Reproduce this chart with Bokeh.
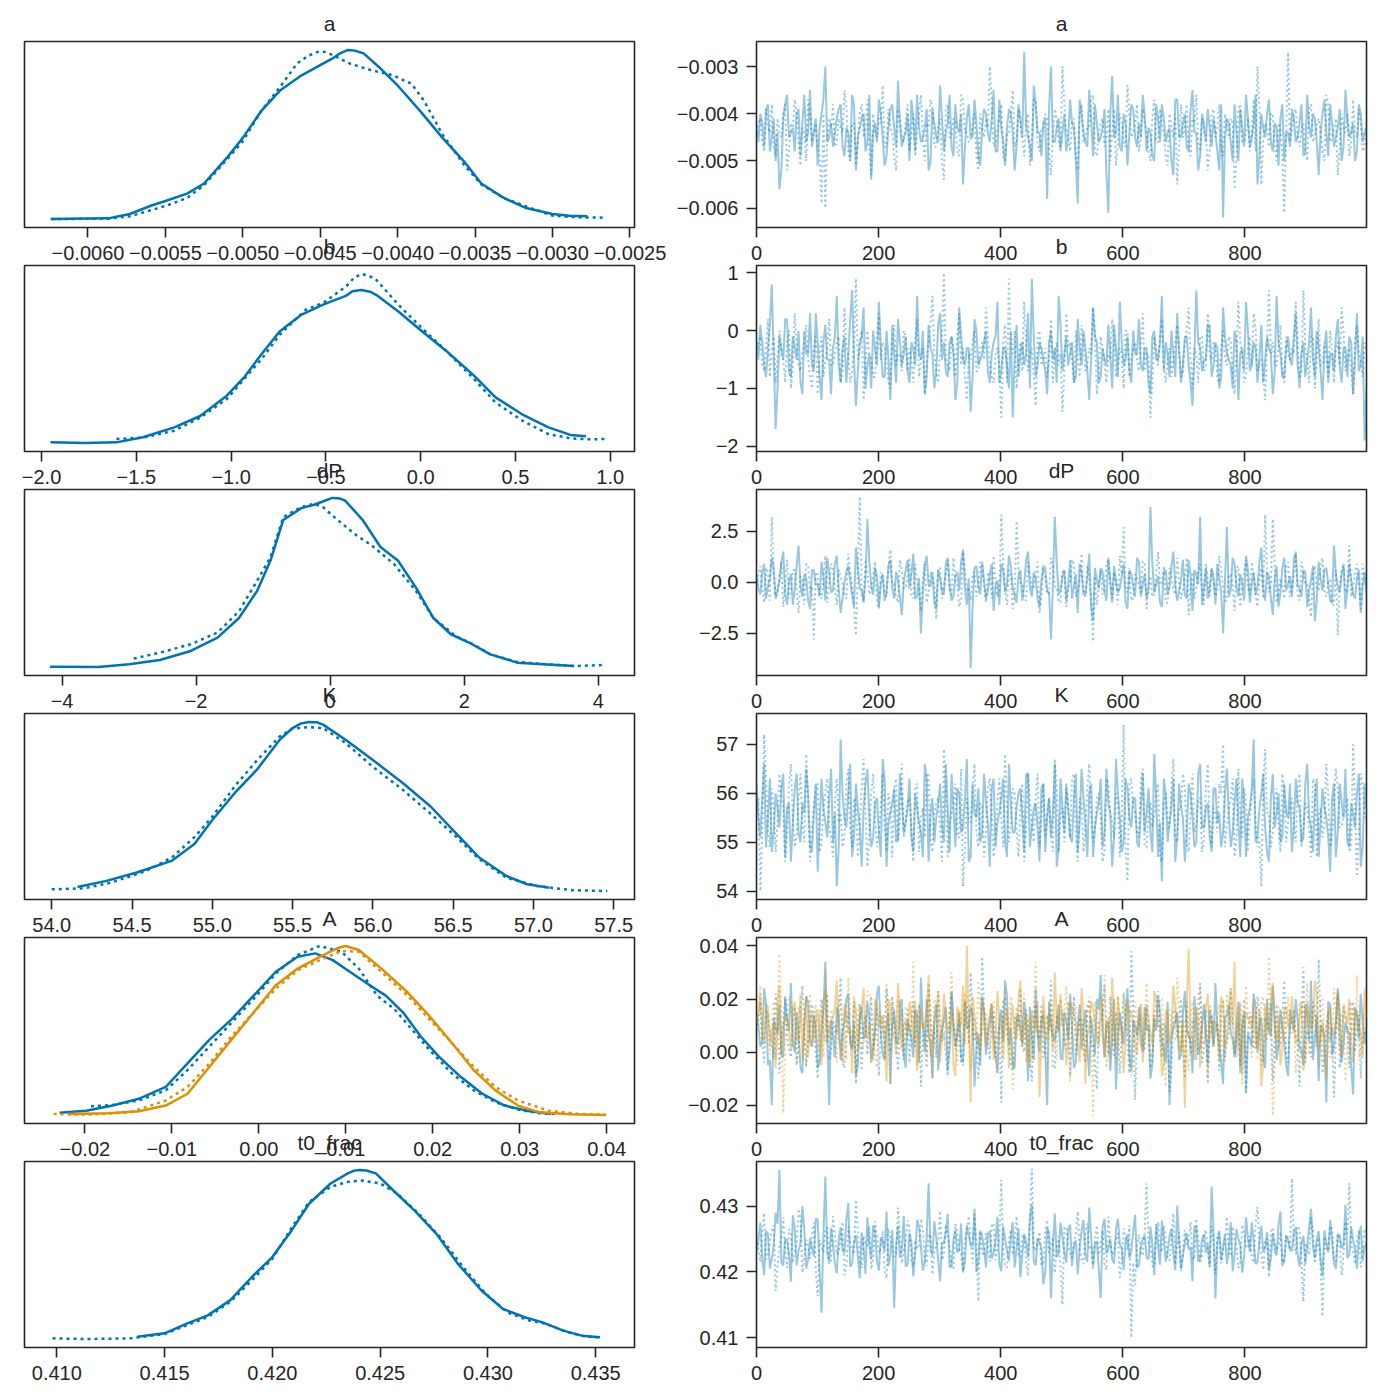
import numpy as np
from bokeh.plotting import figure
from bokeh.models import Range1d, FixedTicker, CustomJSTickFormatter
from bokeh.layouts import gridplot
from bokeh.embed import file_html
from bokeh.resources import INLINE

# ------------------------------------------------------------------ data
N_DRAWS = 1000
var_names = ["a", "b", "dP", "K", "A", "t0_frac"]

# KDE curves (x in the unit given, y = density in % of the panel maximum)
a_kde_unit = 1e-4
a_kde_c0_x = [-62.4, -58.7, -57.3, -55.9, -54.9, -53.6, -52.5, -51.05, -50.0, -48.8, -47.6, -46.2, -45.0, -44.2, -43.72, -43.2, -42.76, -42.2, -41.1, -40.0, -38.55, -37.1, -35.7, -34.6, -33.15, -31.7, -30.0, -28.9, -27.75]
a_kde_c0_y = [0, 0.4, 3, 8, 11, 15, 21, 36, 48, 64, 76, 85, 91, 95, 98, 100, 99.6, 98, 89, 79, 64, 48, 34, 21, 12.5, 6.5, 3, 2, 1.6]
a_kde_c1_x = [-62.4, -58.7, -57.3, -54.9, -53.6, -52.5, -51.05, -50.0, -48.8, -47.6, -46.5, -45.8, -45.1, -44.66, -44.2, -43.1, -41.7, -40.3, -39.1, -38.3, -37.1, -35.7, -34.6, -33.15, -31.7, -30.0, -28.3, -26.6]
a_kde_c1_y = [0, 0.2, 1.6, 8, 12.5, 20, 35, 46, 64, 78, 92, 96.5, 99, 98.8, 97, 92, 88, 85, 80, 70, 50, 32, 20.5, 12.5, 7.5, 2, 1, 0.8]

b_kde_unit = 1.0
b_kde_c0_x = [-1.953, -1.77, -1.605, -1.465, -1.30, -1.163, -1.023, -0.93, -0.837, -0.744, -0.628, -0.512, -0.395, -0.36, -0.314, -0.267, -0.233, -0.116, 0.0, 0.14, 0.28, 0.395, 0.535, 0.674, 0.79, 0.872]
b_kde_c0_y = [0.4, 0, 0.4, 3.4, 9.3, 16, 28, 39, 53, 66, 76, 82, 87, 89.8, 90.5, 89.5, 87.5, 77.6, 66.7, 54, 40, 27, 17, 9.3, 4.8, 4]
b_kde_c1_x = [-1.605, -1.465, -1.30, -1.163, -1.023, -0.93, -0.837, -0.744, -0.605, -0.512, -0.395, -0.353, -0.314, -0.274, -0.233, -0.116, 0.0, 0.14, 0.28, 0.395, 0.535, 0.674, 0.79, 0.884, 0.977]
b_kde_c1_y = [2.4, 3.2, 7.3, 15, 26, 38, 50, 64, 79, 83, 92.5, 97.5, 100, 99, 96.4, 81.6, 68.7, 54, 38, 24, 13.3, 5.3, 2.8, 2.2, 2.4]

dP_kde_unit = 1.0
dP_kde_c0_x = [-4.18, -3.46, -3.0, -2.54, -2.08, -1.68, -1.36, -1.09, -0.89, -0.70, -0.43, -0.24, -0.07, 0.03, 0.125, 0.22, 0.49, 0.75, 1.01, 1.28, 1.54, 1.80, 2.07, 2.39, 2.79, 3.18, 3.64]
dP_kde_c0_y = [0.2, 0, 1.6, 4.2, 9.5, 17.4, 29, 45, 63, 87, 94, 96, 98.5, 100, 99.8, 98.6, 86.7, 71, 63, 47, 29, 19.4, 14.5, 7.5, 2.6, 1.6, 0.6]
dP_kde_c1_x = [-2.93, -2.54, -2.08, -1.68, -1.36, -1.09, -0.89, -0.70, -0.43, -0.24, -0.11, 0.09, 0.36, 0.62, 0.95, 1.28, 1.54, 1.87, 2.13, 2.39, 2.79, 3.25, 3.64, 4.1]
dP_kde_c1_y = [5, 8.5, 13.5, 20.4, 33, 51, 65, 88.7, 94.7, 96.6, 94.7, 87.7, 78.8, 71.9, 61, 45, 29, 18.4, 13.5, 7.5, 3, 1.6, 0.6, 1.2]

K_kde_unit = 1.0
K_kde_c0_x = [54.16, 54.34, 54.53, 54.75, 54.89, 55.0, 55.14, 55.28, 55.42, 55.5, 55.55, 55.6, 55.65, 55.69, 55.83, 56.0, 56.19, 56.36, 56.52, 56.66, 56.83, 56.96, 57.1]
K_kde_c0_y = [2.4, 6, 11, 18, 28, 42, 58, 72, 89.5, 96.4, 99, 100, 99.8, 98.4, 89.5, 77.5, 63.6, 50, 34, 20, 9, 4, 2]
K_kde_c1_x = [54.0, 54.2, 54.37, 54.59, 54.75, 54.89, 55.0, 55.14, 55.28, 55.42, 55.5, 55.6, 55.69, 55.83, 56.0, 56.19, 56.36, 56.52, 56.66, 56.83, 57.02, 57.24, 57.46]
K_kde_c1_y = [1, 1.6, 5, 12, 20, 32, 44, 62, 77.5, 91.5, 96, 97, 96.4, 87.5, 73.5, 59.6, 45.7, 32, 19, 8, 3, 0.5, 0]

A_kde_unit = 1e-3
A0_kde_c0_x = [-22.9, -19.85, -16.8, -13.8, -10.7, -8.2, -5.67, -3.14, -0.6, 1.92, 4.46, 6.48, 8.5, 10.5, 13.1, 14.6, 16.6, 18.6, 20.7, 23.2, 25.7, 28.25, 30.8, 33.6]
A0_kde_c0_y = [1.4, 2.6, 5.6, 9.6, 16.6, 30.6, 44.6, 56.6, 70.6, 84.6, 93.6, 95.6, 91.6, 84.6, 75.6, 70.6, 60.6, 46.6, 34.6, 22.6, 12.6, 5.6, 2.6, 0.6]
A0_kde_c1_x = [-19.3, -16.8, -13.8, -10.7, -8.2, -5.67, -3.14, -0.6, 1.92, 4.46, 7.0, 9.5, 11.5, 13.6, 15.6, 17.6, 19.6, 22.2, 24.7, 27.2, 29.8, 32.3, 34.3]
A0_kde_c1_y = [5.2, 6, 8.6, 14.6, 26.6, 40.6, 54.6, 68.6, 83.6, 94.6, 100, 96.6, 86.6, 70.6, 62.6, 50.6, 38.6, 24.6, 14.6, 7.6, 3.2, 1, 0.6]
A1_kde_c0_x = [-21.9, -17.3, -13.8, -10.7, -8.2, -5.67, -3.14, -0.6, 1.92, 4.46, 7.0, 9.0, 10.0, 11.5, 14.1, 17.1, 19.6, 22.2, 24.7, 27.2, 29.8, 32.3, 35.8, 39.9]
A1_kde_c0_y = [0.6, 1, 2.2, 5.6, 12.6, 28.6, 44.6, 60.6, 76.6, 86.6, 93.6, 98.6, 100, 97.6, 86.6, 72.6, 58.6, 42.6, 26.6, 14.6, 5.6, 1.6, 0.4, 0]
A1_kde_c1_x = [-23.6, -19.85, -14.8, -10.7, -8.2, -5.67, -3.14, -0.6, 1.92, 4.46, 7.0, 9.5, 11.5, 14.1, 17.1, 19.6, 22.2, 24.7, 27.2, 29.8, 33.3, 36.9, 39.9]
A1_kde_c1_y = [0.6, 0.2, 1.6, 8.6, 16.6, 30.6, 46.6, 60.6, 74.6, 85.6, 91.6, 97, 96.6, 84.6, 70.6, 56.6, 42.6, 28.6, 16.6, 8.6, 2.6, 0.6, 0.2]

t0_kde_unit = 1e-3
t0_kde_c0_x = [413.73, 415.0, 416.0, 417.0, 418.05, 419.07, 420.0, 420.9, 421.7, 422.7, 423.5, 423.8, 424.06, 424.36, 424.8, 425.6, 426.6, 427.6, 428.6, 429.7, 430.7, 431.7, 432.5, 433.5, 434.35, 435.2]
t0_kde_c0_y = [1.4, 3.4, 9, 14, 23, 37, 48.5, 64.4, 80, 92, 98, 99.6, 100, 99.7, 98, 88, 76, 62.4, 44.6, 28.7, 17.8, 12.9, 10, 5, 2, 1]
t0_kde_c1_x = [409.8, 411.3, 413.4, 415.0, 416.0, 417.0, 418.05, 419.07, 420.0, 420.9, 421.7, 422.7, 423.5, 424.2, 425.0, 425.8, 426.8, 427.8, 428.85, 429.9, 430.9, 431.9, 432.7, 433.7, 434.55, 435.2]
t0_kde_c1_y = [0.4, 0, 0.4, 3, 8, 13, 22, 35, 47.5, 66, 81, 90, 93, 93.7, 92, 86, 74, 60, 42.6, 26.7, 15.8, 11, 9, 4, 1.4, 1]

# Trace samples, read from the 1000 draws: "_c0/_c1" at even sample slots,
# "_c0m/_c1m" at the slots in between (unit given per variable)
a_tr_unit = 1e-4
a_tr_c0 = [-43,-40,-47,-38,-45,-50,-56,-41,-36,-44,-48,-39,-42,-46,-35,-44,-51,-40,-30,-45,
           -47,-41,-38,-49,-44,-36,-52,-43,-40,-46,-54,-42,-37,-45,-49,-39,-43,-33,-47,-44,
           -50,-41,-36,-46,-43,-52,-39,-45,-34,-48,-42,-47,-38,-44,-55,-41,-45,-37,-49,-43,
           -40,-46,-35,-48,-43,-51,-39,-44,-47,-41,-27,-45,-50,-38,-44,-42,-58,-30,-46,-41,
           -44,-48,-37,-43,-59,-40,-46,-35,-49,-42,-45,-39,-61,-32,-44,-47,-40,-51,-38,-45,
           -42,-36,-48,-44,-50,-41,-38,-46,-43,-53,-37,-45,-40,-48,-35,-44,-49,-42,-39,-47,
           -44,-52,-62,-41,-46,-38,-50,-43,-36,-47,-42,-55,-40,-45,-37,-48,-43,-41,-50,-44,
           -39,-46,-42,-49,-36,-45,-41,-53,-40,-44,-38,-47,-43,-50,-35,-45,-42,-48,-40,-44]
a_tr_c0m = [-46,-42,-39,-48,-41,-44,-52,-38,-45,-43,-40,-49,-36,-44,-47,-41,-43,-37,-46,-42,
            -44,-39,-47,-43,-50,-38,-45,-41,-48,-36,-44,-46,-40,-51,-43,-38,-47,-42,-45,-40,
            -37,-48,-43,-45,-39,-50,-42,-46,-41,-44,-36,-49,-43,-40,-47,-38,-45,-42,-51,-39,
            -44,-41,-48,-37,-46,-43,-40,-52,-38,-45,-42,-47,-34,-44,-49,-41,-39,-46,-43,-48,
            -40,-45,-42,-50,-37,-44,-47,-41,-38,-46,-43,-53,-40,-45,-36,-48,-42,-44,-39,-47,
            -45,-40,-43,-49,-38,-46,-41,-44,-50,-37,-45,-42,-47,-39,-44,-52,-40,-46,-43,-41,
            -48,-38,-45,-42,-50,-44,-39,-47,-41,-45,-36,-49,-43,-40,-46,-42,-51,-38,-44,-47,
            -41,-45,-38,-48,-43,-40,-46,-44,-37,-49,-42,-45,-39,-47,-41,-44,-50,-38,-46,-43]
a_tr_c1 = [-45,-41,-48,-43,-38,-49,-44,-40,-52,-42,-37,-46,-43,-50,-39,-44,-47,-59,-60,-41,
           -38,-46,-43,-35,-48,-42,-51,-40,-45,-37,-53,-44,-41,-34,-47,-43,-49,-39,-45,-42,
           -48,-40,-44,-36,-50,-43,-39,-47,-41,-54,-38,-45,-42,-49,-37,-44,-46,-40,-52,-43,
           -41,-30,-47,-43,-38,-50,-44,-35,-46,-42,-49,-40,-45,-37,-48,-43,-41,-53,-39,-46,
           -30,-44,-48,-41,-52,-38,-45,-43,-36,-49,-42,-47,-39,-44,-51,-40,-46,-34,-45,-42,
           -48,-39,-44,-50,-37,-46,-42,-49,-40,-45,-55,-38,-43,-47,-41,-36,-48,-44,-52,-40,
           -45,-38,-49,-43,-41,-56,-39,-46,-44,-48,-37,-30,-55,-42,-47,-40,-50,-43,-61,-27,
           -44,-39,-47,-42,-50,-38,-45,-41,-48,-36,-46,-43,-53,-40,-44,-49,-37,-45,-42,-47]
a_tr_c1m = [-42,-46,-39,-44,-47,-41,-45,-38,-48,-43,-40,-51,-44,-37,-46,-42,-49,-40,-45,-43,
            -47,-41,-44,-39,-50,-42,-46,-38,-43,-48,-40,-45,-42,-47,-39,-44,-52,-41,-46,-38,
            -44,-49,-40,-45,-42,-37,-47,-43,-50,-39,-45,-41,-48,-36,-44,-46,-42,-49,-40,-45,
            -43,-38,-46,-41,-49,-44,-40,-47,-39,-45,-42,-51,-37,-46,-43,-40,-48,-44,-41,-47,
            -38,-45,-42,-49,-40,-46,-43,-37,-48,-44,-41,-45,-50,-39,-46,-42,-47,-40,-44,-38,
            -45,-42,-48,-41,-46,-39,-44,-51,-43,-40,-47,-45,-38,-49,-42,-46,-41,-44,-48,-39,
            -43,-47,-40,-45,-42,-50,-38,-46,-41,-44,-48,-39,-45,-43,-40,-47,-42,-49,-44,-46,
            -40,-45,-43,-48,-39,-46,-42,-44,-50,-38,-45,-41,-47,-43,-40,-46,-44,-39,-48,-42]

b_tr_unit = 0.1
b_tr_c0 = [-2,1,-6,-3,8,-17,-1,-5,2,-8,-3,0,-11,-4,3,-7,-2,-12,1,-5,
           -3,6,-9,-1,-4,7,-13,-2,4,-6,-10,-3,5,-8,0,-12,-4,2,-6,-1,
           -9,-3,6,-5,-11,1,-4,-7,3,-2,-8,-1,-12,4,-5,-3,-14,2,-6,-4,
           0,-9,-2,5,-7,-3,-10,-15,1,-4,-6,3,9,-8,-2,-5,-11,0,-3,6,
           -7,-1,-4,-9,2,-6,-3,-12,4,-2,-8,-5,1,-10,-3,5,-6,-1,-9,-4,
           2,-7,-3,-11,0,-5,6,-2,-8,-4,3,-9,-1,-6,-13,7,-3,-5,1,-8,
           -2,-10,4,-4,-6,0,-12,-3,5,-7,-2,-9,1,-5,-3,-11,6,-4,-8,-1,
           -6,3,-10,-2,-5,4,-8,-3,-12,0,-4,-7,2,-9,-3,-1,-11,3,-6,-19]
b_tr_c0m = [-5,-2,-8,1,-4,-10,-3,2,-7,-1,-5,-9,0,-4,-6,3,-8,-2,-5,-11,
            -1,-6,-3,-9,2,-5,-7,-1,-10,-4,0,-6,-3,-8,-5,1,-9,-2,-4,-7,
            -2,-6,-4,0,-8,-3,-10,1,-5,-7,-2,-4,-9,-1,-6,-3,-8,0,-5,-2,
            -7,-4,-1,-9,-3,-6,0,-5,-8,-2,-4,-10,-1,-6,-3,-7,-2,-5,-9,1,
            -4,-6,-2,-8,-3,0,-7,-5,-1,-9,-3,-6,-4,1,-8,-2,-5,-7,0,-4,
            -6,-3,-9,-1,-5,-2,-7,-4,0,-8,-3,-6,-1,-9,-4,-2,-7,-5,1,-6,
            -3,-8,-1,-5,-10,-2,-4,-7,0,-6,-3,-5,-9,-1,-4,-7,-2,-8,-3,-5,
            -1,-6,-4,-8,-2,-5,0,-7,-3,-9,-4,-1,-6,-3,-8,-2,-5,-7,-1,-10]
b_tr_c1 = [-4,-1,-7,2,-3,-9,0,-5,-2,-10,3,-6,-4,1,-8,-3,-11,-1,-5,2,
           -6,-2,-9,4,-4,-7,9,-3,-12,0,-5,-8,3,-2,-6,-10,1,-4,-7,-1,
           -3,-9,2,-5,-11,-2,6,-7,-4,10,-6,-1,-8,3,-3,-12,-5,0,-7,-2,
           4,-6,-9,-3,-15,1,9,-4,-10,-2,5,-7,-3,-13,0,-5,-8,2,-4,-6,
           -14,3,-2,-9,-5,1,-7,-3,4,-11,-1,-6,-4,2,-8,-3,-10,0,-5,-2,
           -7,3,-4,-15,-1,-6,2,-9,-3,-5,1,-8,-2,4,-10,-4,-1,-7,3,-5,
           -3,-9,0,-6,-2,-11,5,-4,-8,-1,3,-7,-5,-12,7,-2,-6,1,-9,-4,
           -3,5,-8,7,-5,-1,-10,2,-6,-4,0,-9,-2,4,-7,-3,-11,1,-5,-2]
b_tr_c1m = [-2,-6,-3,-8,-1,-5,-4,-9,0,-6,-3,-7,-2,-5,-10,-1,-4,-8,-3,-6,
            -4,-1,-7,-3,-9,-2,-5,0,-6,-4,-8,-1,-5,-3,-9,-2,-6,-4,0,-7,
            -5,-2,-8,-3,-6,1,-4,-9,-2,-5,-7,-3,-1,-6,-8,-4,-2,-7,-3,-5,
            -1,-8,-4,-6,-2,-9,-3,0,-5,-7,-2,-4,-8,-1,-6,-3,-5,-9,-2,-4,
            -7,-3,-5,0,-8,-2,-6,-4,-1,-7,-3,-9,-5,-2,-6,-4,0,-8,-3,-5,
            -2,-7,-4,-9,-3,-1,-6,-5,-8,-2,-4,-7,0,-5,-3,-9,-1,-6,-4,-2,
            -8,-3,-5,-1,-7,-4,-2,-9,-3,-6,0,-5,-8,-2,-4,-6,-3,-7,-1,-5,
            -4,-2,-7,-3,-9,-1,-5,-6,-2,-8,-4,-3,-6,0,-5,-7,-2,-4,-8,-3]

dP_tr_unit = 0.1
dP_tr_c0 = [3,-6,9,-2,12,-8,1,15,-11,4,-3,18,-7,2,-13,6,-1,10,-9,5,
            -4,13,-15,0,8,-6,17,-3,-10,31,-2,7,-12,4,-5,11,-8,1,-16,6,
            -3,14,-7,-25,9,-1,5,-13,2,-6,12,-9,3,-4,16,-11,-42,7,-2,10,
            -8,4,-14,1,9,-5,13,-3,-10,6,-1,15,-7,2,-12,8,-4,-28,32,-6,
            3,-9,11,-2,-15,5,-6,14,-19,1,7,-4,12,-10,0,-3,9,-13,4,-7,
            10,-1,-8,37,-5,3,-12,6,-2,15,-9,1,-6,11,-14,4,32,-3,-8,7,
            -11,2,-25,27,-4,9,-7,0,13,-10,5,-2,17,-9,3,-16,8,-5,12,-1,
            -7,15,-3,6,-12,1,-19,10,-4,7,-9,18,-2,4,-13,9,-6,2,-15,5]
dP_tr_c0m = [-3,5,-8,2,7,-4,10,-6,1,-11,8,-2,4,-9,6,-1,-7,3,12,-5,
             9,-3,-8,5,1,-12,7,-4,2,10,-6,3,-1,-9,8,-3,5,-7,0,11,
             4,-8,2,-5,13,-2,-10,6,-4,9,-1,-7,5,10,-3,2,-12,8,-6,1,
             -4,9,-2,-11,6,-1,8,-6,3,-9,11,-3,5,-8,1,7,-5,-2,10,-4,
             6,-1,-8,4,9,-6,2,-12,7,-3,5,-9,1,8,-5,3,-10,6,-2,12,
             -7,4,-3,9,-1,-10,5,-6,8,-2,-4,11,-8,3,6,-1,-11,7,-3,2,
             9,-5,1,-7,12,-2,4,-9,6,-1,-6,10,-3,5,-8,2,-12,7,-4,3,
             11,-2,-7,5,-4,8,-9,2,6,-1,-10,4,-5,9,-3,1,-8,6,-2,-6]
dP_tr_c1 = [-2,8,-10,5,32,-7,2,-12,11,-3,6,-15,1,9,-5,-28,4,-8,13,-1,
            7,-11,3,-6,14,-2,-26,42,-9,5,-4,10,-13,2,-7,16,-1,-10,6,-3,
            12,-8,0,-14,9,-5,3,-18,7,-2,11,-6,1,-12,15,-4,-9,5,-3,8,
            -10,2,13,-7,33,-4,6,-13,30,-1,-8,10,-3,4,-15,7,-6,12,-2,-9,
            5,-12,1,9,-4,14,-7,2,-29,-11,6,-3,11,-8,0,13,27,-5,-9,4,
            -2,10,-13,3,-6,15,-1,-10,7,-4,12,-8,2,-16,5,-3,9,-11,1,6,
            -7,13,-2,-9,4,-14,8,-1,11,-6,3,-12,7,33,-5,31,-10,2,-8,10,
            -3,14,-9,5,-1,-17,8,-4,12,-7,1,-11,-26,6,-5,18,-2,9,-13,3]
dP_tr_c1m = [4,-3,7,-9,2,-5,10,-1,-8,6,-4,3,-11,8,-2,5,-7,1,-10,9,
             -3,6,-1,-8,4,-12,7,-2,10,-6,3,-9,5,-4,8,-1,-7,11,-3,2,
             -6,9,-4,1,-10,5,-2,7,-8,3,-5,12,-1,-9,6,-3,4,-7,10,-2,
             5,-8,1,-4,9,-11,3,-6,7,-1,-9,4,-3,10,-7,2,-5,8,-2,-10,
             6,-3,11,-7,1,-4,8,-9,3,-2,-6,9,-1,5,-11,4,-3,7,-8,2,
             -5,10,-2,-7,4,-1,8,-10,3,-6,1,-4,12,-2,-8,5,-3,9,-7,1,
             -4,6,-9,3,-1,7,-12,5,-3,10,-6,2,-8,4,-1,9,-5,-2,8,-7,
             3,-6,10,-1,-9,4,-3,7,-5,1,-11,6,-2,8,-4,-7,5,-1,9,-3]

K_tr_unit = 0.1
K_tr_c0 = [562,551,566,555,548,560,553,564,557,546,561,552,558,565,549,556,544,563,554,559,
           550,541,571,555,560,547,562,553,557,565,549,558,552,567,545,556,561,551,559,554,
           563,548,557,552,566,546,559,555,562,550,557,564,549,560,553,567,547,556,561,552,
           558,545,563,554,559,550,566,552,557,561,548,564,553,558,546,562,555,551,566,549,
           557,562,551,559,548,565,554,560,547,556,563,552,558,545,567,555,550,561,553,559,
           549,564,556,552,568,547,542,560,554,563,551,557,546,562,555,550,566,553,558,548,
           561,556,552,565,549,558,554,563,547,557,571,551,560,553,546,564,556,550,562,555,
           548,563,557,551,566,553,559,547,561,555,544,562,552,558,565,549,556,560,545,562]
K_tr_c0m = [555,559,549,563,552,557,561,547,558,554,564,550,556,560,548,562,553,557,551,565,
            556,549,560,553,566,551,557,545,562,555,551,559,547,563,554,558,550,564,552,557,
            551,560,554,547,563,556,550,558,553,566,548,557,561,552,559,546,562,555,550,564,
            554,561,549,556,563,547,558,552,560,555,564,549,557,553,561,548,559,556,545,563,
            552,557,550,564,554,559,547,562,553,558,549,565,556,551,560,548,563,555,559,550,
            557,552,561,548,559,554,563,550,557,546,562,555,552,560,549,564,553,557,551,561,
            554,549,560,556,552,563,547,558,555,561,550,557,564,548,559,553,560,551,556,562,
            553,558,550,562,555,548,563,554,557,551,559,547,562,555,550,558,553,564,549,557]
K_tr_c1 = [556,540,572,553,561,548,564,557,551,566,549,559,554,568,546,557,562,550,560,553,
           547,563,556,551,565,549,558,553,567,545,560,555,552,564,548,557,561,550,566,554,
           559,546,562,555,551,564,548,558,553,569,547,556,562,551,541,559,554,566,549,557,
           552,563,547,558,555,568,550,561,553,557,546,564,554,559,549,562,556,552,567,548,
           557,561,551,564,546,558,553,566,550,559,555,548,562,554,560,547,574,542,563,556,
           551,565,549,558,555,562,546,560,553,567,550,557,561,548,564,554,559,551,566,549,
           556,562,570,553,559,547,565,551,558,555,563,549,541,569,556,552,561,548,560,554,
           559,550,564,553,557,547,562,555,551,566,549,558,561,553,556,548,570,543,564,555]
K_tr_c1m = [559,552,563,549,557,554,560,546,562,555,551,564,550,558,553,561,548,557,563,551,
            558,554,549,562,553,559,547,561,556,552,564,549,557,553,560,547,563,555,551,558,
            553,561,548,557,564,550,556,559,546,562,554,558,551,565,549,555,561,552,558,547,
            561,556,552,563,549,557,554,560,547,562,553,558,550,564,555,551,559,548,561,556,
            550,557,563,552,559,548,561,555,553,560,546,563,556,551,558,554,549,562,557,552,
            563,549,556,553,560,547,558,555,562,551,557,564,550,556,552,559,548,561,554,557,
            552,560,549,557,563,550,555,561,548,559,554,551,562,556,549,558,553,564,550,557,
            554,561,549,558,552,563,547,557,554,560,551,565,553,556,559,549,557,551,562,556]

A_tr_unit = 1e-3
A0_tr_c0 = [15,2,24,-5,-20,9,18,-2,12,26,0,7,-8,21,4,14,-6,10,34,-20,
            6,17,-3,11,22,1,-9,13,5,19,-4,8,25,-1,10,-12,16,3,20,-6,
            9,-2,14,28,0,6,-10,18,4,12,-7,23,2,15,-4,9,17,-13,7,21,
            -1,11,5,-8,16,27,3,-5,13,8,19,-11,6,24,0,14,-20,10,4,18,
            -3,12,22,-6,9,1,16,-9,7,20,29,-2,11,5,-14,15,3,24,-7,10,
            17,0,8,-10,13,21,4,-4,-20,9,15,-1,23,6,-8,12,2,18,-5,11,
            26,3,-12,14,7,-2,19,10,-15,5,22,0,13,-6,8,25,-3,16,4,-9,
            12,20,1,-5,15,27,6,-11,9,-19,18,2,24,-4,11,7,-16,14,22,3]
A0_tr_c0m = [10,4,18,-3,13,7,-1,21,8,3,15,-6,11,19,2,9,-4,16,5,12,
             -2,14,8,20,3,11,-5,17,6,13,1,22,7,-3,15,9,4,18,-1,12,
             5,16,-4,10,20,3,13,-7,8,17,1,11,6,-2,19,9,14,2,-5,15,
             7,18,-1,12,4,21,9,-6,14,3,10,17,-3,8,13,1,19,6,11,-2,
             15,5,9,-4,18,10,2,13,-1,16,7,11,-7,20,4,9,14,-2,12,6,
             3,17,10,-5,8,15,1,19,6,12,-3,14,9,4,21,-1,11,7,16,2,
             9,-4,13,18,5,10,-8,15,7,2,17,11,-2,20,6,13,3,9,-5,16,
             8,12,1,18,4,-3,14,10,6,19,-1,11,15,3,8,-6,17,5,12,9]
A0_tr_c1 = [8,19,-4,13,3,22,-8,11,6,-2,17,1,25,-5,9,14,-10,20,4,-3,
            12,7,28,-6,15,2,-12,18,9,-1,21,5,-9,13,24,0,10,-7,16,6,
            -4,19,11,-13,8,26,3,-2,14,7,-9,22,1,12,-5,17,30,4,-10,36,
            9,-3,15,6,-19,20,2,-7,13,24,0,10,-11,18,5,-2,14,27,-6,8,
            16,1,-9,21,7,12,-4,19,3,-14,11,25,-1,8,15,-8,22,4,38,-18,
            10,3,17,-6,13,23,-2,9,-15,16,5,20,-10,7,12,-3,26,1,-12,14,
            8,-7,19,4,24,-1,11,6,-16,15,2,21,-5,13,9,-11,18,3,27,-4,
            12,6,-13,32,8,-2,17,35,-8,10,4,-17,22,1,14,-6,19,9,-10,7]
A0_tr_c1m = [12,3,16,8,-2,14,6,20,1,10,-5,15,9,4,18,-1,13,7,22,2,
             9,15,-4,11,6,19,3,-7,14,10,1,17,8,-2,12,21,5,9,-3,16,
             11,2,18,7,-6,13,9,23,4,-1,15,10,6,-4,19,3,12,8,1,17,
             5,14,-2,10,20,7,-5,13,9,2,16,-3,11,6,18,1,8,-6,14,12,
             4,19,9,-1,13,6,17,2,-4,11,15,7,21,-2,10,5,13,-8,16,8,
             14,1,9,-3,18,6,11,2,-6,15,10,4,19,-1,12,7,-4,16,9,3,
             11,17,-2,8,13,5,-5,20,7,12,1,15,-3,10,18,6,2,13,-1,9,
             16,4,11,-4,7,19,2,13,-2,15,9,5,-6,17,8,12,0,14,6,10]
A1_tr_c0 = [12,22,3,17,8,-6,25,10,14,1,19,6,-3,21,11,4,16,-5,23,9,
            13,27,2,18,7,-8,15,11,24,5,-2,20,9,14,-11,17,6,26,1,12,
            19,4,-7,16,10,29,3,13,-4,22,8,17,-9,11,25,40,-19,14,6,20,
            2,15,-3,23,9,12,-6,18,5,27,11,-1,16,8,-17,21,4,13,30,7,
            10,-5,19,14,3,24,-12,9,17,6,21,-2,13,28,1,11,-8,20,15,4,
            12,-4,18,7,23,10,-9,16,3,25,13,0,-21,39,6,17,-6,14,22,8,
            11,-3,19,5,24,34,9,-8,15,12,20,2,-13,18,7,26,4,-5,16,10,
            21,3,14,-7,19,9,27,1,12,-10,17,6,23,-2,13,20,-4,15,8,24]
A1_tr_c0m = [14,7,18,2,11,20,-1,13,8,16,4,22,9,-2,15,10,6,19,3,12,
             17,5,-4,14,9,21,1,16,7,11,-3,18,12,4,20,8,-1,15,10,6,
             13,19,2,9,16,-2,11,23,5,14,8,-5,17,10,3,12,21,6,-1,15,
             9,18,4,13,-3,16,10,7,20,2,14,-6,11,19,5,9,15,1,12,22,
             8,3,17,11,-4,14,6,19,10,2,16,9,-2,13,21,7,4,15,11,-1,
             18,6,12,3,20,9,-5,14,8,16,1,11,19,5,-3,13,10,17,4,12,
             7,21,2,15,10,-2,18,6,13,9,3,16,-4,11,20,8,14,1,17,9,
             12,5,19,-1,14,10,22,6,-3,15,8,13,2,18,11,4,16,9,-2,13]
A1_tr_c1 = [9,25,4,15,11,-3,37,-23,13,20,2,17,8,-6,22,10,1,16,31,5,
            12,-4,19,7,28,14,-9,18,3,23,11,-1,15,6,26,-12,13,21,2,17,
            8,34,-5,14,10,24,-10,18,5,12,-2,30,9,16,3,21,-7,13,27,6,
            15,1,19,-8,11,24,7,-14,17,4,22,12,-3,34,9,16,-6,20,2,14,
            10,25,-11,18,6,13,-1,21,-24,15,8,29,3,17,-4,12,23,7,-9,19,
            11,4,26,-2,14,9,20,-13,16,6,28,1,12,-7,19,10,24,3,-10,15,
            8,18,-5,22,13,2,17,-12,25,9,14,-3,20,6,36,-24,11,16,4,21,
            7,-8,18,12,26,3,15,-6,20,10,-2,24,9,14,-11,17,5,29,1,13]
A1_tr_c1m = [16,6,12,-1,19,8,14,3,21,10,-4,15,7,11,2,18,13,-2,9,16,
             5,20,11,-3,14,8,17,1,12,22,6,-6,15,10,3,19,8,13,-1,16,
             11,4,18,9,-2,14,20,6,11,1,17,9,-5,13,22,7,10,3,16,12,
             8,19,-2,14,5,11,21,2,9,15,-4,13,18,6,10,1,16,12,-3,20,
             13,7,2,17,10,-1,15,8,19,4,12,-6,14,9,21,3,11,16,-2,8,
             18,6,13,1,10,20,-3,15,9,4,17,12,-1,14,7,22,5,11,18,2,
             13,9,-4,16,10,3,19,7,12,-2,15,8,21,4,11,-5,17,9,13,6,
             14,2,18,10,-1,15,7,20,5,12,-3,16,9,13,1,19,8,-2,14,11]

t0_tr_unit = 1e-4
t0_tr_c0 = [4230,4275,4195,4258,4220,4290,4355,4210,4248,4185,4266,4232,4300,4205,4251,4224,4280,4138,4345,4215,
            4242,4198,4268,4229,4305,4212,4256,4190,4237,4283,4219,4261,4202,4247,4292,4226,4145,4270,4234,4208,
            4259,4193,4279,4238,4216,4335,4225,4252,4186,4244,4288,4211,4264,4233,4199,4271,4240,4296,4218,4255,
            4207,4262,4230,4284,4201,4249,4217,4276,4236,4192,4258,4222,4303,4210,4245,4181,4267,4160,4289,4228,
            4253,4214,4272,4239,4196,4263,4226,4298,4209,4247,4160,4281,4235,4219,4265,4243,4203,4257,4231,4287,
            4211,4250,4222,4269,4195,4240,4278,4216,4254,4228,4301,4205,4245,4234,4186,4267,4221,4258,4243,4330,
            4160,4263,4238,4212,4276,4226,4251,4199,4283,4230,4247,4215,4270,4236,4204,4259,4225,4292,4217,4249,
            4232,4268,4208,4255,4240,4296,4221,4262,4193,4244,4279,4213,4257,4236,4302,4226,4249,4205,4270,4238]
t0_tr_c0m = [4248,4221,4262,4205,4239,4273,4214,4251,4228,4286,4210,4244,4265,4219,4236,4281,4203,4255,4229,4267,
             4213,4250,4233,4279,4208,4246,4224,4260,4197,4241,4271,4216,4253,4231,4209,4264,4238,4222,4285,4211,
             4245,4227,4268,4202,4252,4235,4277,4218,4243,4261,4206,4249,4230,4274,4215,4256,4239,4200,4263,4234,
             4258,4220,4247,4212,4270,4232,4253,4207,4266,4226,4244,4283,4217,4251,4236,4199,4260,4241,4223,4275,
             4230,4264,4209,4248,4237,4279,4215,4255,4242,4204,4269,4228,4250,4213,4281,4235,4246,4221,4262,4206,
             4237,4256,4219,4243,4273,4211,4252,4230,4266,4203,4247,4224,4259,4238,4270,4216,4249,4229,4208,4263,
             4244,4218,4257,4235,4201,4265,4240,4223,4251,4276,4212,4246,4231,4261,4220,4242,4272,4209,4254,4233,
             4259,4225,4243,4212,4267,4238,4250,4219,4263,4230,4246,4205,4256,4241,4221,4268,4234,4252,4217,4245]
t0_tr_c1 = [4252,4215,4290,4228,4263,4171,4240,4283,4206,4257,4232,4296,4199,4249,4220,4275,4163,4238,4261,4212,
            4285,4226,4247,4195,4269,4234,4310,4218,4255,4241,4204,4277,4229,4262,4190,4250,4223,4298,4213,4244,
            4268,4208,4236,4281,4219,4257,4196,4242,4293,4227,4253,4210,4273,4235,4201,4263,4245,4288,4155,4230,
            4259,4216,4274,4238,4340,4207,4249,4226,4285,4222,4256,4194,4357,4232,4261,4214,4279,4240,4198,4254,
            4150,4268,4228,4247,4292,4219,4258,4235,4203,4271,4243,4212,4284,4226,4250,4191,4266,4234,4100,4180,
            4257,4225,4335,4242,4208,4276,4230,4253,4217,4289,4239,4201,4264,4245,4222,4281,4213,4256,4236,4270,
            4197,4259,4231,4284,4224,4248,4206,4272,4238,4255,4214,4299,4229,4246,4192,4267,4235,4261,4218,4250,
            4342,4227,4264,4155,4240,4283,4213,4252,4132,4236,4270,4221,4258,4195,4277,4335,4230,4249,4207,4265]
t0_tr_c1m = [4236,4260,4219,4247,4271,4208,4253,4229,4265,4214,4244,4282,4223,4238,4257,4201,4249,4230,4268,4217,
             4254,4233,4276,4211,4245,4227,4261,4206,4240,4269,4220,4252,4235,4202,4266,4243,4225,4259,4231,4278,
             4215,4248,4237,4263,4209,4256,4231,4245,4218,4272,4236,4204,4258,4227,4249,4285,4213,4241,4262,4224,
             4239,4270,4218,4251,4232,4207,4264,4244,4226,4255,4215,4280,4238,4247,4210,4262,4229,4253,4236,4205,
             4268,4241,4221,4257,4233,4212,4274,4238,4249,4226,4263,4203,4245,4230,4259,4218,4251,4271,4214,4240,
             4228,4262,4244,4209,4256,4235,4270,4222,4247,4211,4260,4233,4242,4276,4219,4250,4226,4264,4207,4244,
             4255,4213,4248,4231,4269,4240,4216,4258,4236,4221,4275,4245,4203,4251,4262,4228,4239,4214,4257,4234,
             4248,4270,4219,4243,4226,4261,4237,4208,4254,4232,4266,4216,4245,4229,4258,4241,4212,4264,4235,4250]

# Axis limits shared by KDE x axis and trace y axis
a_lim = (-0.00641, -0.00247)
b_lim = (-2.09, 1.128)
dP_lim = (-4.56, 4.54)
K_lim = (53.83, 57.63)
A_lim = (-0.02694, 0.04319)
t0_lim = (0.4085, 0.4368)

# Tick labels
a_kde_ticks = [-0.0060, -0.0055, -0.0050, -0.0045, -0.0040, -0.0035, -0.0030, -0.0025]
b_kde_ticks = [-2.0, -1.5, -1.0, -0.5, 0.0, 0.5, 1.0]
dP_kde_ticks = [-4, -2, 0, 2, 4]
K_kde_ticks = [54.0, 54.5, 55.0, 55.5, 56.0, 56.5, 57.0, 57.5]
A_kde_ticks = [-0.02, -0.01, 0.0, 0.01, 0.02, 0.03, 0.04]
t0_kde_ticks = [0.410, 0.415, 0.420, 0.425, 0.430, 0.435]
a_tr_ticks = [-0.006, -0.005, -0.004, -0.003]
b_tr_ticks = [-2, -1, 0, 1]
dP_tr_ticks = [-2.5, 0.0, 2.5]
K_tr_ticks = [54, 55, 56, 57]
A_tr_ticks = [-0.02, 0.0, 0.02, 0.04]
t0_tr_ticks = [0.41, 0.42, 0.43]
draw_ticks = [0, 200, 400, 600, 800]

# ------------------------------------------------------------------ style
BLUE = "#0173B2"
ORANGE = "#DE8F05"
INK = "#262626"
FONT = "Liberation Sans"
TICK_FS = "20px"
TITLE_FS = "21px"

LEFT_W = 670     # 24 + 610 + 36 (room for the last tick label)
RIGHT_W = 700    # 86 + 610 + 4
row_h = [262, 224, 224, 224, 224, 229]
row_top = [41, 3, 3, 3, 3, 3]
row_bot = [35, 35, 35, 35, 35, 40]
KDE_Y = (-5.0, 105.0)
TR_X = (0, N_DRAWS - 1)
X_LABEL_STANDOFF = 8
NEXT_TITLE_STANDOFF = -28


def fmt(d):
    return CustomJSTickFormatter(args=dict(d=d), code="""
const s = Number(tick).toFixed(d);
return s.charAt(0) === '-' ? '\u2212' + s.slice(1) : s;
""")


def style_axis(ax, ticks, dec, standoff):
    ax.ticker = FixedTicker(ticks=ticks)
    ax.formatter = fmt(dec)
    ax.axis_line_color = None
    ax.major_tick_out = 10
    ax.major_tick_in = 0
    ax.major_tick_line_color = INK
    ax.major_tick_line_width = 1.6
    ax.minor_tick_line_color = None
    ax.major_label_text_font = FONT
    ax.major_label_text_font_size = TICK_FS
    ax.major_label_text_color = INK
    ax.major_label_standoff = standoff


def set_next_title(ax, text):
    # title of the panel below, drawn in the gap under this panel's ticks
    ax.axis_label = text
    ax.axis_label_text_font = FONT
    ax.axis_label_text_font_size = TITLE_FS
    ax.axis_label_text_font_style = "normal"
    ax.axis_label_text_color = INK
    ax.axis_label_standoff = NEXT_TITLE_STANDOFF


def base_fig(w, h, xr, yr, left, right, top, bot):
    p = figure(width=w, height=h, x_range=Range1d(*xr), y_range=Range1d(*yr),
               output_backend="svg", toolbar_location=None,
               min_border_left=left, min_border_right=right,
               min_border_top=top, min_border_bottom=bot)
    p.xgrid.visible = False
    p.ygrid.visible = False
    p.outline_line_color = INK
    p.outline_line_width = 1.6
    p.outline_line_alpha = 1.0
    p.background_fill_color = "white"
    p.border_fill_color = "white"
    return p


def interleave(main, mid):
    s = (N_DRAWS - 1) / (2 * len(main) - 1)
    xs = np.concatenate([np.arange(len(main)) * 2 * s, (np.arange(len(mid)) * 2 + 1) * s])
    ys = np.concatenate([np.array(main, float), np.array(mid, float)])
    order = np.argsort(xs, kind="stable")
    return xs[order], ys[order]


panels = [
    dict(name="a", lim=a_lim, kdeu=a_kde_unit, tru=a_tr_unit,
         kde=[(a_kde_c0_x, a_kde_c0_y, BLUE, False), (a_kde_c1_x, a_kde_c1_y, BLUE, True)],
         tr=[(a_tr_c0, a_tr_c0m, BLUE, False), (a_tr_c1, a_tr_c1m, BLUE, True)],
         kt=a_kde_ticks, kd=4, tt=a_tr_ticks, td=3),
    dict(name="b", lim=b_lim, kdeu=b_kde_unit, tru=b_tr_unit,
         kde=[(b_kde_c0_x, b_kde_c0_y, BLUE, False), (b_kde_c1_x, b_kde_c1_y, BLUE, True)],
         tr=[(b_tr_c0, b_tr_c0m, BLUE, False), (b_tr_c1, b_tr_c1m, BLUE, True)],
         kt=b_kde_ticks, kd=1, tt=b_tr_ticks, td=0),
    dict(name="dP", lim=dP_lim, kdeu=dP_kde_unit, tru=dP_tr_unit,
         kde=[(dP_kde_c0_x, dP_kde_c0_y, BLUE, False), (dP_kde_c1_x, dP_kde_c1_y, BLUE, True)],
         tr=[(dP_tr_c0, dP_tr_c0m, BLUE, False), (dP_tr_c1, dP_tr_c1m, BLUE, True)],
         kt=dP_kde_ticks, kd=0, tt=dP_tr_ticks, td=1),
    dict(name="K", lim=K_lim, kdeu=K_kde_unit, tru=K_tr_unit,
         kde=[(K_kde_c0_x, K_kde_c0_y, BLUE, False), (K_kde_c1_x, K_kde_c1_y, BLUE, True)],
         tr=[(K_tr_c0, K_tr_c0m, BLUE, False), (K_tr_c1, K_tr_c1m, BLUE, True)],
         kt=K_kde_ticks, kd=1, tt=K_tr_ticks, td=0),
    dict(name="A", lim=A_lim, kdeu=A_kde_unit, tru=A_tr_unit,
         kde=[(A0_kde_c0_x, A0_kde_c0_y, BLUE, False), (A0_kde_c1_x, A0_kde_c1_y, BLUE, True),
              (A1_kde_c0_x, A1_kde_c0_y, ORANGE, False), (A1_kde_c1_x, A1_kde_c1_y, ORANGE, True)],
         tr=[(A0_tr_c0, A0_tr_c0m, BLUE, False), (A0_tr_c1, A0_tr_c1m, BLUE, True),
             (A1_tr_c0, A1_tr_c0m, ORANGE, False), (A1_tr_c1, A1_tr_c1m, ORANGE, True)],
         kt=A_kde_ticks, kd=2, tt=A_tr_ticks, td=2),
    dict(name="t0_frac", lim=t0_lim, kdeu=t0_kde_unit, tru=t0_tr_unit,
         kde=[(t0_kde_c0_x, t0_kde_c0_y, BLUE, False), (t0_kde_c1_x, t0_kde_c1_y, BLUE, True)],
         tr=[(t0_tr_c0, t0_tr_c0m, BLUE, False), (t0_tr_c1, t0_tr_c1m, BLUE, True)],
         kt=t0_kde_ticks, kd=3, tt=t0_tr_ticks, td=2),
]

rows = []
for i, pn in enumerate(panels):
    h, top, bot = row_h[i], row_top[i], row_bot[i]
    lo, hi = pn["lim"]
    # ---- left: KDE
    pl = base_fig(LEFT_W, h, (lo, hi), KDE_Y, 24, 36, top, bot)
    for xs, ys, col, dotted in pn["kde"]:
        xv = np.array(xs) * pn["kdeu"]
        pl.line(xv, ys, line_color=col, line_width=2.5,
                line_dash="3 4" if dotted else "solid", line_cap="butt", line_join="round")
    style_axis(pl.xaxis[0], pn["kt"], pn["kd"], X_LABEL_STANDOFF)
    pl.yaxis.visible = False
    # ---- right: trace
    pr = base_fig(RIGHT_W, h, TR_X, (lo, hi), 86, 4, top, bot)
    for main, mid, col, dotted in pn["tr"]:
        xv, yv = interleave(main, mid)
        pr.line(xv, yv * pn["tru"], line_color=col, line_alpha=0.4, line_width=2.0,
                line_dash="2 3" if dotted else "solid")
    style_axis(pr.xaxis[0], draw_ticks, 0, X_LABEL_STANDOFF)
    style_axis(pr.yaxis[0], pn["tt"], pn["td"], 8)
    if i == 0:
        for p in (pl, pr):
            p.title.text = pn["name"]
            p.title.align = "center"
            p.title.text_font = FONT
            p.title.text_font_size = TITLE_FS
            p.title.text_font_style = "normal"
            p.title.text_color = INK
            p.title.standoff = 13
    if i + 1 < len(panels):
        set_next_title(pl.xaxis[0], panels[i + 1]["name"])
        set_next_title(pr.xaxis[0], panels[i + 1]["name"])
    rows.append([pl, pr])

grid = gridplot(rows, toolbar_location=None)
open("out.html", "w").write(file_html(grid, INLINE))
